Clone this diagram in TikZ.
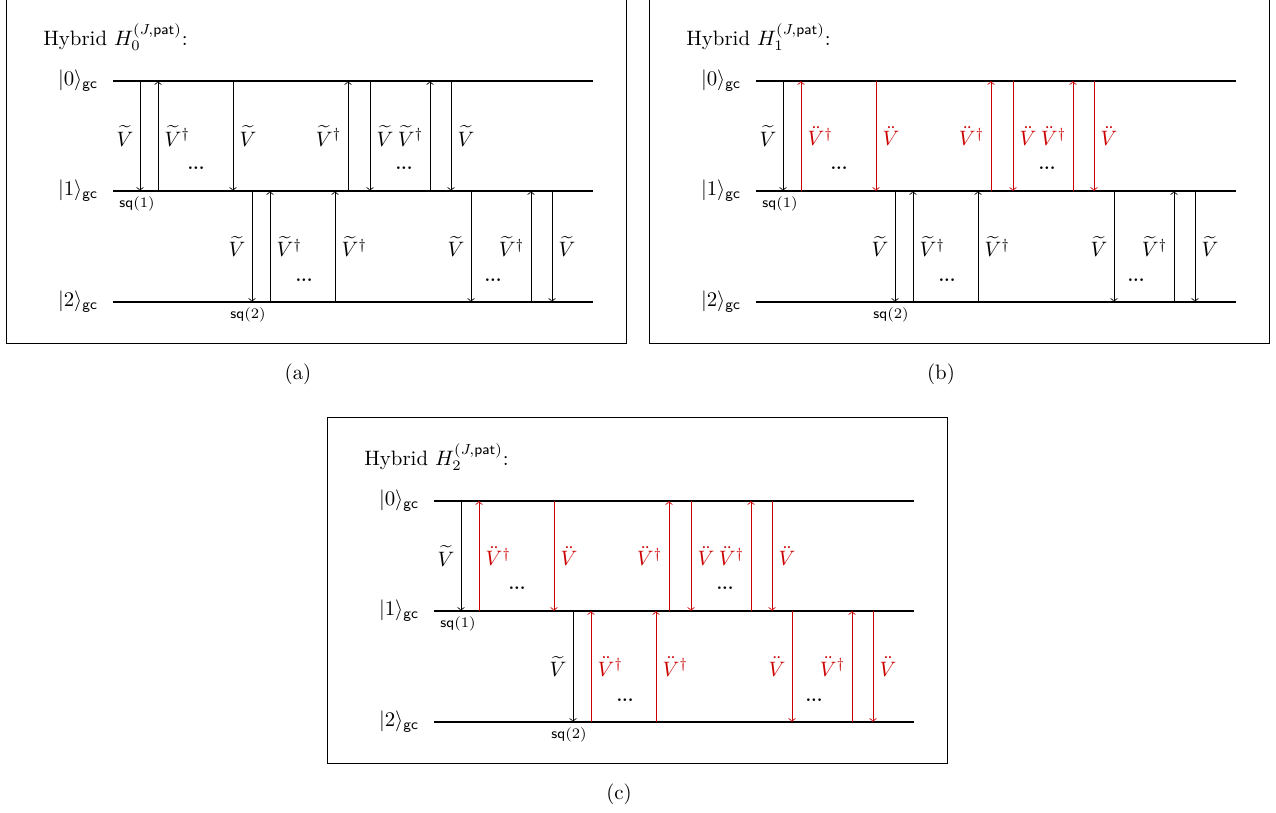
\documentclass[tikz,border=0pt]{standalone}
\usepackage{amsmath,amssymb}
\usepackage{xcolor}
\usepackage{tikz}

\definecolor{hred}{RGB}{204,0,0}
\newcommand{\Vt}{\widetilde{V}}
\newcommand{\Vtd}{\widetilde{V}^{\dagger}}
\newcommand{\Vdd}{\ddot{V}}
\newcommand{\Vddd}{\ddot{V}^{\dagger}}

\begin{document}
\begin{tikzpicture}[x=.48pt,y=-.48pt,
    frame/.style={line width=.4pt},
    lvl/.style={line width=.9pt},
    jump/.style={->,line width=.4pt},
    jlab/.style={inner sep=3pt},
    dotsn/.style={font=\footnotesize\bfseries},
    sqlab/.style={font=\scriptsize,below,inner sep=2.5pt}]
    \useasboundingbox (0,0) rectangle (1276,813);

    % (a)
    \begin{scope}
      \draw[frame] (6,-3) rectangle (626,343);
      \node[anchor=west] (ta) at (36,37) {Hybrid\ $H_0^{(J,\mathsf{pat})}$:};
      \foreach \n/\y in {0/81,1/191,2/302}{
        \coordinate (a\n) at (113,\y);
        \draw[lvl] (a\n) -- (593,\y);
        \node[left,inner sep=7pt] (la\n) at (a\n) {$|\n\rangle_{\mathsf{gc}}$};
      }
      \foreach \x/\f/\t/\l/\s/\c in {140/0/1/\Vt/left/black,158/1/0/\Vtd/right/black,233/0/1/\Vt/right/black,348/1/0/\Vtd/left/black,370/0/1/\Vt/right/black,430/1/0/\Vtd/left/black,451/0/1/\Vt/right/black,
        252/1/2/\Vt/left/black,270/2/1/\Vtd/right/black,335/2/1/\Vtd/right/black,471/1/2/\Vt/left/black,531/2/1/\Vtd/left/black,552/1/2/\Vt/right/black}{
        \draw[jump,\c] (\x,0 |- a\f) -- (\x,0 |- a\t) node[midway,\s,jlab] {$\l$};
      }
      \foreach \x/\y in {196/168,404/168,304/280,493/280}{
        \node[dotsn] at (\x,\y) {...};
      }
      \node[sqlab] (sqa1) at (137,191) {$\mathsf{sq}(1)$};
      \node[sqlab] (sqa2) at (248,302) {$\mathsf{sq}(2)$};
      \node (capa) at (298,374) {(a)};
    \end{scope}

    % (b)
    \begin{scope}[shift={(643,0)}]
      \draw[frame] (6,-3) rectangle (626,343);
      \node[anchor=west] (tb) at (36,37) {Hybrid\ $H_1^{(J,\mathsf{pat})}$:};
      \foreach \n/\y in {0/81,1/191,2/302}{
        \coordinate (b\n) at (113,\y);
        \draw[lvl] (b\n) -- (593,\y);
        \node[left,inner sep=7pt] (lb\n) at (b\n) {$|\n\rangle_{\mathsf{gc}}$};
      }
      \foreach \x/\f/\t/\l/\s/\c in {140/0/1/\Vt/left/black,158/1/0/\Vddd/right/hred,233/0/1/\Vdd/right/hred,348/1/0/\Vddd/left/hred,370/0/1/\Vdd/right/hred,430/1/0/\Vddd/left/hred,451/0/1/\Vdd/right/hred,
        252/1/2/\Vt/left/black,270/2/1/\Vtd/right/black,335/2/1/\Vtd/right/black,471/1/2/\Vt/left/black,531/2/1/\Vtd/left/black,552/1/2/\Vt/right/black}{
        \draw[jump,\c] (\x,0 |- b\f) -- (\x,0 |- b\t) node[midway,\s,jlab] {$\l$};
      }
      \foreach \x/\y in {196/168,404/168,304/280,493/280}{
        \node[dotsn] at (\x,\y) {...};
      }
      \node[sqlab] (sqb1) at (137,191) {$\mathsf{sq}(1)$};
      \node[sqlab] (sqb2) at (248,302) {$\mathsf{sq}(2)$};
      \node (capb) at (298,374) {(b)};
    \end{scope}

    % (c)
    \begin{scope}[shift={(321,420)}]
      \draw[frame] (6,-3) rectangle (626,343);
      \node[anchor=west] (tc) at (36,37) {Hybrid\ $H_2^{(J,\mathsf{pat})}$:};
      \foreach \n/\y in {0/81,1/191,2/302}{
        \coordinate (c\n) at (113,\y);
        \draw[lvl] (c\n) -- (593,\y);
        \node[left,inner sep=7pt] (lc\n) at (c\n) {$|\n\rangle_{\mathsf{gc}}$};
      }
      \foreach \x/\f/\t/\l/\s/\c in {140/0/1/\Vt/left/black,158/1/0/\Vddd/right/hred,233/0/1/\Vdd/right/hred,348/1/0/\Vddd/left/hred,370/0/1/\Vdd/right/hred,430/1/0/\Vddd/left/hred,451/0/1/\Vdd/right/hred,
        252/1/2/\Vt/left/black,270/2/1/\Vddd/right/hred,335/2/1/\Vddd/right/hred,471/1/2/\Vdd/left/hred,531/2/1/\Vddd/left/hred,552/1/2/\Vdd/right/hred}{
        \draw[jump,\c] (\x,0 |- c\f) -- (\x,0 |- c\t) node[midway,\s,jlab] {$\l$};
      }
      \foreach \x/\y in {196/168,404/168,304/280,493/280}{
        \node[dotsn] at (\x,\y) {...};
      }
      \node[sqlab] (sqc1) at (137,191) {$\mathsf{sq}(1)$};
      \node[sqlab] (sqc2) at (248,302) {$\mathsf{sq}(2)$};
      \node (capc) at (298,374) {(c)};
    \end{scope}
\end{tikzpicture}
\end{document}
